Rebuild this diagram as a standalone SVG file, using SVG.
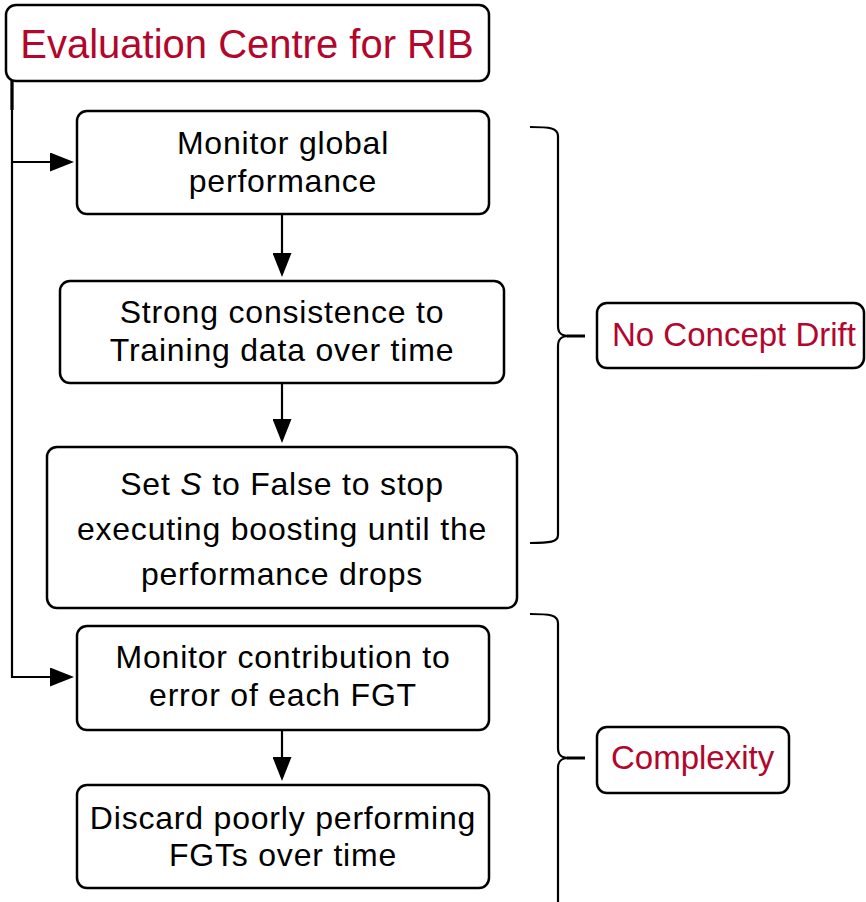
<svg xmlns="http://www.w3.org/2000/svg" width="866" height="902" viewBox="0 0 866 902">
  <style>
    .box { fill: #ffffff; stroke: #000000; stroke-width: 2.5; }
    .txt { font-family: "Liberation Sans", Arial, Helvetica, sans-serif; font-size: 32px; letter-spacing: 0.8px; fill: #000000; text-anchor: middle; }
    .red { fill: #b3062c; }
    .title { font-size: 40px; letter-spacing: 0; }
    .lab { text-anchor: start; font-size: 33px; letter-spacing: 0; }
    .wire { fill: none; stroke: #000000; stroke-width: 2.2; }
    .brace { fill: none; stroke: #000000; stroke-width: 2.2; stroke-linejoin: round; }
  </style>
  <defs>
    <marker id="arrow" viewBox="0 0 24 19" refX="20" refY="9.5" markerWidth="24" markerHeight="19" markerUnits="userSpaceOnUse" orient="auto">
      <path d="M0,0 L24,9.5 L0,19 Z" fill="#000000"/>
    </marker>
  </defs>

  <!-- connectors -->
  <g id="connectors">
    <path class="wire" d="M12,81 L12,677 L70,677" marker-end="url(#arrow)"/>
    <path class="wire" d="M12,162 L70,162" marker-end="url(#arrow)"/>
    <line x1="12" y1="81" x2="12" y2="110" stroke="#000000" stroke-width="3.2"/>
    <path class="wire" d="M282,214 L282,273" marker-end="url(#arrow)"/>
    <path class="wire" d="M282,384 L282,439" marker-end="url(#arrow)"/>
    <path class="wire" d="M282,730 L282,777" marker-end="url(#arrow)"/>
  </g>

  <!-- header -->
  <g id="evaluation-centre">
    <rect class="box" x="6" y="5" width="483" height="76" rx="10"/>
    <text class="txt red title" x="247" y="58">Evaluation Centre for RIB</text>
  </g>

  <g id="monitor-global">
    <rect class="box" x="77" y="111" width="412" height="103" rx="10"/>
    <text class="txt" x="283" y="154">Monitor global</text>
    <text class="txt" x="283" y="192">performance</text>
  </g>

  <g id="strong-consistence">
    <rect class="box" x="60" y="281" width="444" height="102" rx="10"/>
    <text class="txt" x="282" y="323">Strong consistence to</text>
    <text class="txt" x="282" y="361">Training data over time</text>
  </g>

  <g id="set-s-false">
    <rect class="box" x="47" y="447" width="470" height="161" rx="10"/>
    <text class="txt" x="282" y="495">Set <tspan font-style="italic">S</tspan> to False to stop</text>
    <text class="txt" x="282" y="540">executing boosting until the</text>
    <text class="txt" x="282" y="585">performance drops</text>
  </g>

  <g id="monitor-contribution">
    <rect class="box" x="77" y="626" width="412" height="104" rx="10"/>
    <text class="txt" x="283" y="668">Monitor contribution to</text>
    <text class="txt" x="283" y="706">error of each FGT</text>
  </g>

  <g id="discard-fgts">
    <rect class="box" x="77" y="785" width="412" height="103" rx="10"/>
    <text class="txt" x="283" y="829">Discard poorly performing</text>
    <text class="txt" x="283" y="866">FGTs over time</text>
  </g>

  <!-- grouping braces -->
  <g id="brace-drift">
    <path class="brace" d="M530,127 C550,127 558,128 558,136 L558,326 C558,333 561,336 569,336 C561,336 558,339 558,346 L558,535 C558,542 550,543 530,543"/>
    <line x1="567" y1="336" x2="585" y2="336" stroke="#000000" stroke-width="3"/>
  </g>
  <g id="no-concept-drift">
    <rect class="box" x="597" y="303" width="267" height="65" rx="10"/>
    <text class="txt red lab" x="612" y="346">No Concept Drift</text>
  </g>

  <g id="brace-complexity">
    <path class="brace" d="M530,614 C550,614 558,615 558,623 L558,748 C558,755 561,758 569,758 C561,758 558,761 558,768 L558,910"/>
    <line x1="567" y1="758" x2="585" y2="758" stroke="#000000" stroke-width="3"/>
  </g>
  <g id="complexity">
    <rect class="box" x="597" y="727" width="192" height="66" rx="10"/>
    <text class="txt red lab" x="611" y="769">Complexity</text>
  </g>
</svg>
